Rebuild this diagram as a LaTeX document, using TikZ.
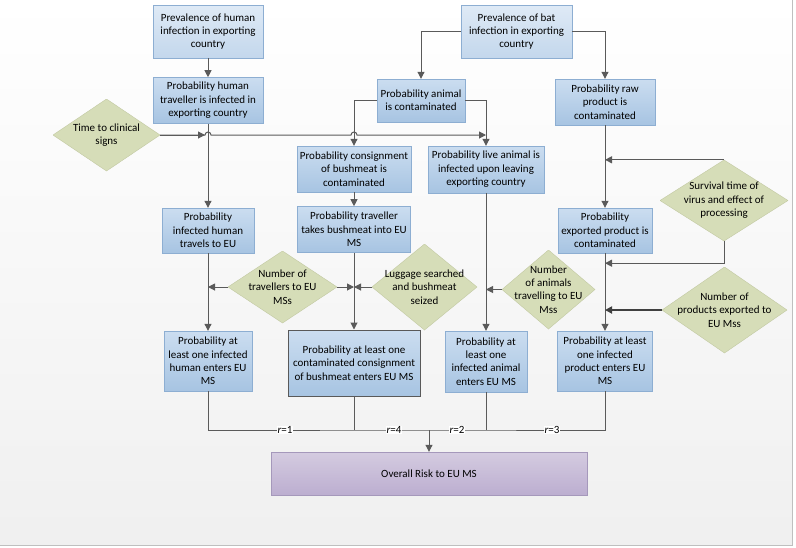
\documentclass[tikz,border=0pt]{standalone}
\usepackage{fontspec}
\setmainfont{Carlito}
\usetikzlibrary{positioning}
\usetikzlibrary{arrows.meta}
\usetikzlibrary{calc}
\definecolor{boxLine}{HTML}{8DAED2}
\definecolor{prevTop}{HTML}{DFEAF6}
\definecolor{prevBottom}{HTML}{C3D7EC}
\definecolor{probTop}{HTML}{CBDDF0}
\definecolor{probBottom}{HTML}{A7C4E2}
\definecolor{factorFill}{HTML}{D6DDB8}
\definecolor{factorLine}{HTML}{C2C9A2}
\definecolor{riskTop}{HTML}{D4CBE0}
\definecolor{riskBottom}{HTML}{BCAED0}
\definecolor{riskLine}{HTML}{A598BB}
\definecolor{connGrey}{HTML}{5A5A5A}
\tikzset{%
	% Specifications for style of boxes:
	base/.style = {rectangle, draw=boxLine, align=center, inner sep=2pt,
		font=\fontsize{11pt}{13.4pt}\selectfont},
	prevalence/.style = {base, top color=prevTop, bottom color=prevBottom},
	probability/.style = {base, top color=probTop, bottom color=probBottom},
	keyResult/.style = {probability, draw=black!65, line width=1pt},
	outcome/.style = {base, draw=riskLine, top color=riskTop, bottom color=riskBottom},
	% input factors, drawn as diamonds inside the node box
	factor/.style = {rectangle, align=center, inner sep=0pt,
		font=\fontsize{11pt}{13.4pt}\selectfont,
		path picture={\filldraw[fill=factorFill, draw=factorLine]
			(path picture bounding box.north) -- (path picture bounding box.east)
			-- (path picture bounding box.south) -- (path picture bounding box.west) -- cycle;}},
	% connectors
	plainLine/.style = {draw=connGrey, line width=1pt},
	conn/.style = {plainLine, -{Triangle[length=7pt, width=7pt]}},
	rLabel/.style = {fill=white, inner sep=0.5pt, font=\fontsize{11pt}{13pt}\selectfont}
}
\begin{document}
\begin{tikzpicture}[x=1pt, y=-1pt]
	\useasboundingbox (0,0) rectangle (796,547);
	\fill[top color=white, bottom color=black!6] (0,0) rectangle (792,545);
	\draw[black!25] (792,0) -- (792,545) -- (0,545);
	% human column
	\node (prevHuman) [prevalence, minimum width=110pt, minimum height=53pt] at (208,31.5) {Prevalence of human\\infection in exporting\\country};
	\node (probTrav) [probability, minimum width=110pt, minimum height=46pt, below=19pt of prevHuman] {Probability human\\traveller is infected in\\exporting country};
	\node (timeDia) [factor, minimum width=107pt, minimum height=72pt] at (106.5,135) {Time to clinical\\signs};
	\node (probInfHuman) [probability, minimum width=92pt, minimum height=45pt] at (208,230.5) {Probability\\infected human\\travels to EU};
	\node (humanEnters) [probability, minimum width=88pt, minimum height=60pt] at (208,361) {Probability at\\least one infected\\human enters EU\\MS};
	% bat side
	\node (prevBat) [prevalence, minimum width=111pt, minimum height=53pt] at (516.5,31.5) {Prevalence of bat\\infection in exporting\\country};
	\node (probAnimal) [probability, minimum width=88pt, minimum height=43pt] at (421,100.5) {Probability animal\\is contaminated};
	\node (probRaw) [probability, minimum width=100pt, minimum height=46pt] at (605,102) {Probability raw\\product is\\contaminated};
	\node (probConsign) [probability, minimum width=114pt, minimum height=46pt] at (354,169) {Probability consignment\\of bushmeat is\\contaminated};
	\node (probLive) [probability, minimum width=116pt, minimum height=47pt] at (486,169.5) {Probability live animal is\\infected upon leaving\\exporting country};
	\node (probTravBush) [probability, minimum width=113pt, minimum height=46pt, below=14pt of probConsign] {Probability traveller\\takes bushmeat into EU\\MS};
	\node (probExported) [probability, minimum width=94pt, minimum height=45pt] at (605,230.5) {Probability\\exported product is\\contaminated};
	\node (survDia) [factor, minimum width=128pt, minimum height=81pt] at (724,200.5) {Survival time of\\virus and effect of\\processing};
	\node (prodDia) [factor, minimum width=125pt, minimum height=86pt] at (724.5,310) {Number of\\products exported to\\EU Mss};
	\node (travDia) [factor, minimum width=109pt, minimum height=72pt] at (282.5,287) {Number of\\travellers to EU\\MSs};
	\node (lugDia) [factor, minimum width=105pt, minimum height=86pt] at (424.5,287) {Luggage searched\\and bushmeat\\seized};
	\node (animDia) [factor, minimum width=93pt, minimum height=79pt] at (548.5,289.5) {Number\\of animals\\travelling to EU\\Mss};
	\node (bushEnters) [keyResult, minimum width=132pt, minimum height=66pt] at (354,363) {Probability at least one\\contaminated consignment\\of bushmeat enters EU MS};
	\node (animalEnters) [probability, minimum width=82pt, minimum height=61pt] at (486,361.5) {Probability at\\least one\\infected animal\\enters EU MS};
	\node (productEnters) [probability, minimum width=95pt, minimum height=60pt] at (605,361) {Probability at least\\one infected\\product enters EU\\MS};
	\node (overall) [outcome, minimum width=316pt, minimum height=43pt] at (429,473.5) {Overall Risk to EU MS};
	% connectors, top part
	\draw[conn] (prevHuman.south) -- (probTrav.north);
	\draw[conn] (prevBat.west) -| (probAnimal.north);
	\draw[conn] (prevBat.east) -| (probRaw.north);
	\draw[conn] (probAnimal.west) -| (probConsign.north);
	\draw[conn] (probAnimal.east) -| (probLive.north);
	\draw[conn] (probTrav.south) -- (probInfHuman.north);
	\draw[conn] (timeDia.east) -- ([xshift=-3pt]timeDia.east -| probTrav.south);
	\draw[conn] (timeDia.east) -- ([xshift=-3pt]timeDia.east -| probTrav.south)
		arc[start angle=180, end angle=0, radius=3pt]
		-- ([xshift=-3pt]timeDia.east -| probConsign.north)
		arc[start angle=180, end angle=0, radius=3pt]
		-- (timeDia.east -| probLive.north);
	\draw[conn] (probConsign.south) -- (probTravBush.north);
	\draw[conn] (probRaw.south) -- (probExported.north);
	\draw[conn] (survDia.north) -- (survDia.north -| probRaw.south);
	\draw[conn] (survDia.south) |- ([yshift=-10pt]probExported.south);
	% connectors, lower part
	\draw[conn] (probInfHuman.south) -- (humanEnters.north);
	\draw[conn] (travDia.west) -- (travDia.west -| probInfHuman.south);
	\draw[conn] (travDia.east) -- (travDia.east -| probTravBush.south);
	\draw[conn] (lugDia.west) -- (lugDia.west -| probTravBush.south);
	\draw[conn] (probTravBush.south) -- (bushEnters.north);
	\draw[conn] (probLive.south) -- (animalEnters.north);
	\draw[conn] (animDia.west) -- (animDia.west -| probLive.south);
	\draw[conn] (probExported.south) -- (productEnters.north);
	\draw[conn, line width=2pt, draw=black!75] (prodDia.west) -- (prodDia.west -| probExported.south);
	% collecting the four routes
	\coordinate (collect) at (429,430);
	\draw[plainLine] (humanEnters.south) |- (collect) -| (productEnters.south);
	\draw[plainLine] (bushEnters.south) -- (bushEnters.south |- collect);
	\draw[plainLine] (animalEnters.south) -- (animalEnters.south |- collect);
	\draw[conn] (collect) -- (overall.north);
	\node (rOne) [rLabel] at (285,430) {\textit{r}=1};
	\node (rFour) [rLabel] at (394,430) {\textit{r}=4};
	\node (rTwo) [rLabel] at (457,430) {\textit{r}=2};
	\node (rThree) [rLabel] at (552,430) {\textit{r}=3};
\end{tikzpicture}
\end{document}
